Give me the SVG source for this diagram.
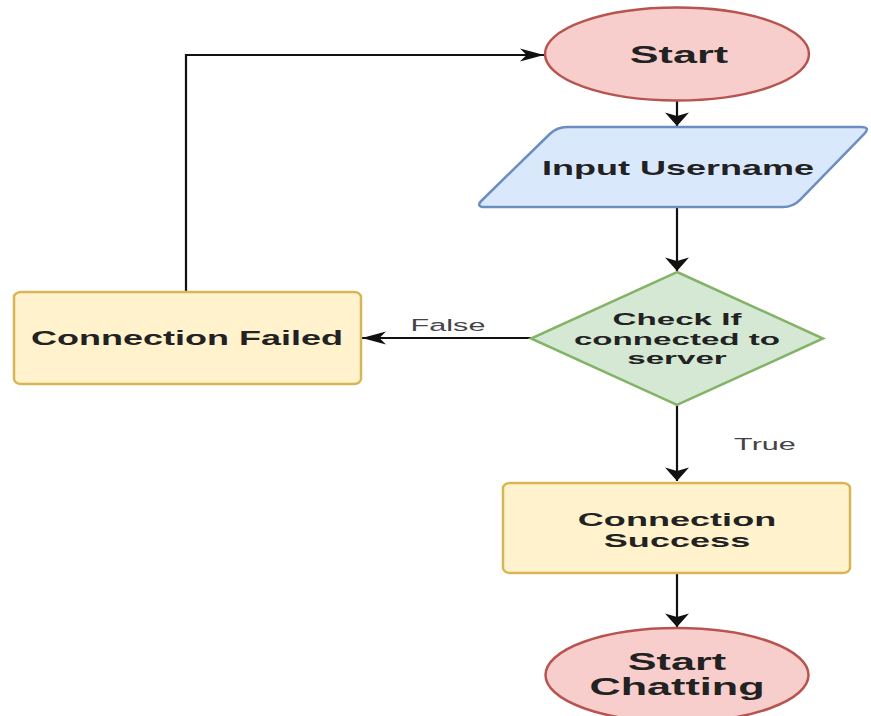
<svg xmlns="http://www.w3.org/2000/svg" width="871" height="716" viewBox="0 0 871 716">
<defs>
<style>
.lbl{font-family:"Liberation Sans",Arial,sans-serif;font-weight:bold;fill:#222;text-anchor:middle}
.edge{font-family:"Liberation Sans",Arial,sans-serif;font-size:17px;fill:#444;text-anchor:middle}
.red{fill:#f8cecc;stroke:#b85450;stroke-width:2.5}
.blue{fill:#dae8fc;stroke:#6c8ebf;stroke-width:2.5}
.green{fill:#d5e8d4;stroke:#82b366;stroke-width:2.5}
.yellow{fill:#fff2cc;stroke:#d6b656;stroke-width:2.5}
.conn{fill:none;stroke:#111;stroke-width:2.2}
</style>
<marker id="ah" markerUnits="userSpaceOnUse" markerWidth="24" markerHeight="14" viewBox="0 0 22 12" refX="22" refY="6" orient="auto">
<path d="M0,0 L22,6 L0,12 L6,6 Z" fill="#111"/>
</marker>
<marker id="av" markerUnits="userSpaceOnUse" markerWidth="14" markerHeight="24" viewBox="0 0 13 23" refX="13" refY="11.5" orient="auto">
<path d="M0,0 L13,11.5 L0,23 L3.5,11.5 Z" fill="#111"/>
</marker>
</defs>
<rect width="871" height="716" fill="#fff"/>
<g id="connectors">
<path class="conn" d="M677,100 V126" marker-end="url(#av)"/>
<path class="conn" d="M677,207 V271" marker-end="url(#av)"/>
<path class="conn" d="M677,405 V481" marker-end="url(#av)"/>
<path class="conn" d="M677,573 V627" marker-end="url(#av)"/>
<path class="conn" d="M531,338 H362" marker-end="url(#ah)"/>
<path class="conn" d="M186,292 V55 H544" marker-end="url(#ah)"/>
<text class="edge" transform="translate(448 0) scale(1.8 1)" x="0" y="331">False</text>
<text class="edge" transform="translate(765 0) scale(1.8 1)" x="0" y="450">True</text>
</g>
<g id="start">
<ellipse class="red" cx="677" cy="54" rx="132" ry="46.5"/>
<text class="lbl" font-size="24" transform="translate(679 0) scale(1.8 1)" x="0" y="63">Start</text>
</g>
<g id="input-username">
<path class="blue" d="M567,127 H861 Q871,127 864,134.2 L800,199.8 Q793,207 783,207 H485 Q475,207 482.2,200 L549.8,134 Q557,127 567,127 Z"/>
<text class="lbl" font-size="20" transform="translate(678 0) scale(1.8 1)" x="0" y="175">Input Username</text>
</g>
<g id="check-connected">
<path class="green" d="M677,272 L823,338.5 L677,405 L531,338.5 Z"/>
<text class="lbl" font-size="17" transform="translate(677 0) scale(1.95 1)" x="0" y="325.5">Check If</text>
<text class="lbl" font-size="17" transform="translate(677 0) scale(1.95 1)" x="0" y="345">connected to</text>
<text class="lbl" font-size="17" transform="translate(677 0) scale(1.95 1)" x="0" y="364.5">server</text>
</g>
<g id="connection-failed">
<rect class="yellow" x="14" y="292" width="347" height="92" rx="7" ry="5"/>
<text class="lbl" font-size="20" transform="translate(187 0) scale(1.8 1)" x="0" y="345">Connection Failed</text>
</g>
<g id="connection-success">
<rect class="yellow" x="503" y="483" width="347" height="90" rx="7" ry="5"/>
<text class="lbl" font-size="19" transform="translate(677 0) scale(1.9 1)" x="0" y="526">Connection</text>
<text class="lbl" font-size="19" transform="translate(677 0) scale(1.9 1)" x="0" y="547.5">Success</text>
</g>
<g id="start-chatting">
<ellipse class="red" cx="677" cy="675" rx="131.5" ry="47"/>
<text class="lbl" font-size="24" transform="translate(677 0) scale(1.8 1)" x="0" y="670">Start</text>
<text class="lbl" font-size="24" transform="translate(677 0) scale(1.8 1)" x="0" y="695">Chatting</text>
</g>
</svg>
